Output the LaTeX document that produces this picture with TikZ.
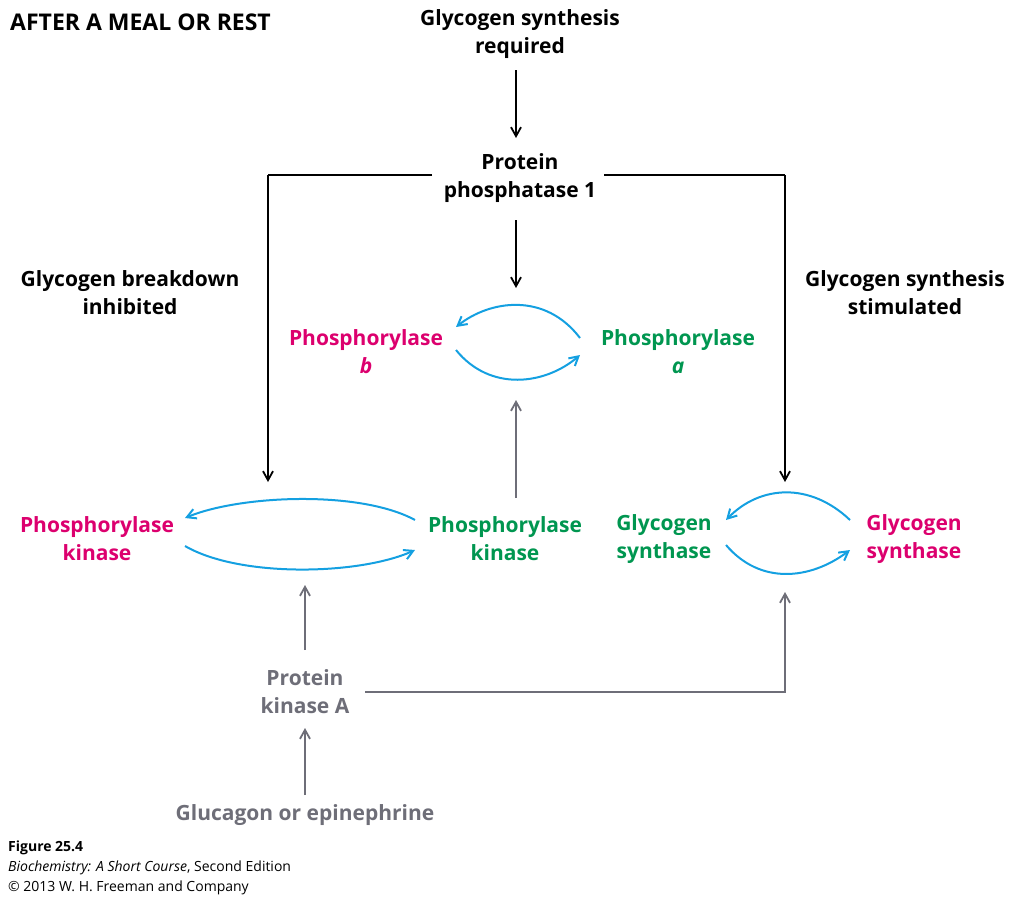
\documentclass[tikz,border=0pt]{standalone}
\usepackage{fontspec}
\setmainfont{Open Sans}
\usetikzlibrary{arrows.meta}
\definecolor{mag}{RGB}{220,0,110}
\definecolor{grn}{RGB}{0,150,80}
\definecolor{blu}{RGB}{20,160,225}
\definecolor{gry}{RGB}{110,110,120}
\begin{document}
\begin{tikzpicture}[x=1pt,y=-1pt,
  t/.style={font=\fontsize{21}{28}\selectfont\bfseries,align=center,inner sep=0pt},
  ar/.style={-{Straight Barb[length=9pt,width=10pt]},line width=1.8pt},
  bl/.style={ar,blu,line width=2pt}]
\useasboundingbox (0,0) rectangle (1024,900);
\node[t,anchor=west,font=\fontsize{23}{28}\selectfont\bfseries] (title) at (10,22) {AFTER A MEAL OR REST};
\node[t] (req) at (520,34) {Glycogen synthesis\\required};
\node[t] (pp1) at (520,178) {Protein\\phosphatase 1};
\node[t] (inh) at (130,293) {Glycogen breakdown\\inhibited};
\node[t] (stim) at (905,293) {Glycogen synthesis\\stimulated};
\node[t,mag] (pb) at (366,352) {Phosphorylase\\\itshape b};
\node[t,grn] (pa) at (678,352) {Phosphorylase\\\itshape a};
\node[t,mag] (pkb) at (97,539) {Phosphorylase\\kinase};
\node[t,grn] (pka) at (505,539) {Phosphorylase\\kinase};
\node[t,grn] (gsa) at (664,539) {Glycogen\\synthase};
\node[t,mag] (gsb) at (914,539) {Glycogen\\synthase};
\node[t,gry] (pkA) at (305,692) {Protein\\kinase A};
\node[t,gry] (glu) at (305,815) {Glucagon or epinephrine};
\node[anchor=north west,align=left,inner sep=0pt,font=\fontsize{14}{20}\selectfont] (cap) at (8,841)
 {\textbf{Figure 25.4}\\\textit{Biochemistry: A Short Course}, Second Edition\\© 2013 W. H. Freeman and Company};
\coordinate (l1) at (268,175); \coordinate (l2) at (268,482);
\coordinate (r1) at (785,175); \coordinate (r2) at (785,482);
\draw[ar] (516,70) -- (516,138);
\draw[ar] (516,220) -- (516,288);
\draw[line width=1.8pt] (432,175) -- (l1);
\draw[ar] (l1) -- (l2);
\draw[line width=1.8pt] (604,175) -- (r1);
\draw[ar] (r1) -- (r2);
\draw[bl] (580,338) .. controls (545,292) and (490,300) .. (456,327);
\draw[bl] (456,350) .. controls (490,392) and (545,385) .. (580,355);
\draw[bl] (415,520) .. controls (360,490) and (240,495) .. (185,518);
\draw[bl] (185,546) .. controls (240,578) and (360,575) .. (415,550);
\draw[bl] (850,520) .. controls (810,482) and (760,485) .. (726,520);
\draw[bl] (726,545) .. controls (760,585) and (810,580) .. (850,550);
\draw[ar,gry] (516,498) -- (516,400);
\draw[ar,gry] (305,650) -- (305,585);
\draw[ar,gry] (305,795) -- (305,728);
\coordinate (k1) at (785,692);
\draw[ar,gry] (365,692) -- (k1) -- (785,592);
\end{tikzpicture}
\end{document}
